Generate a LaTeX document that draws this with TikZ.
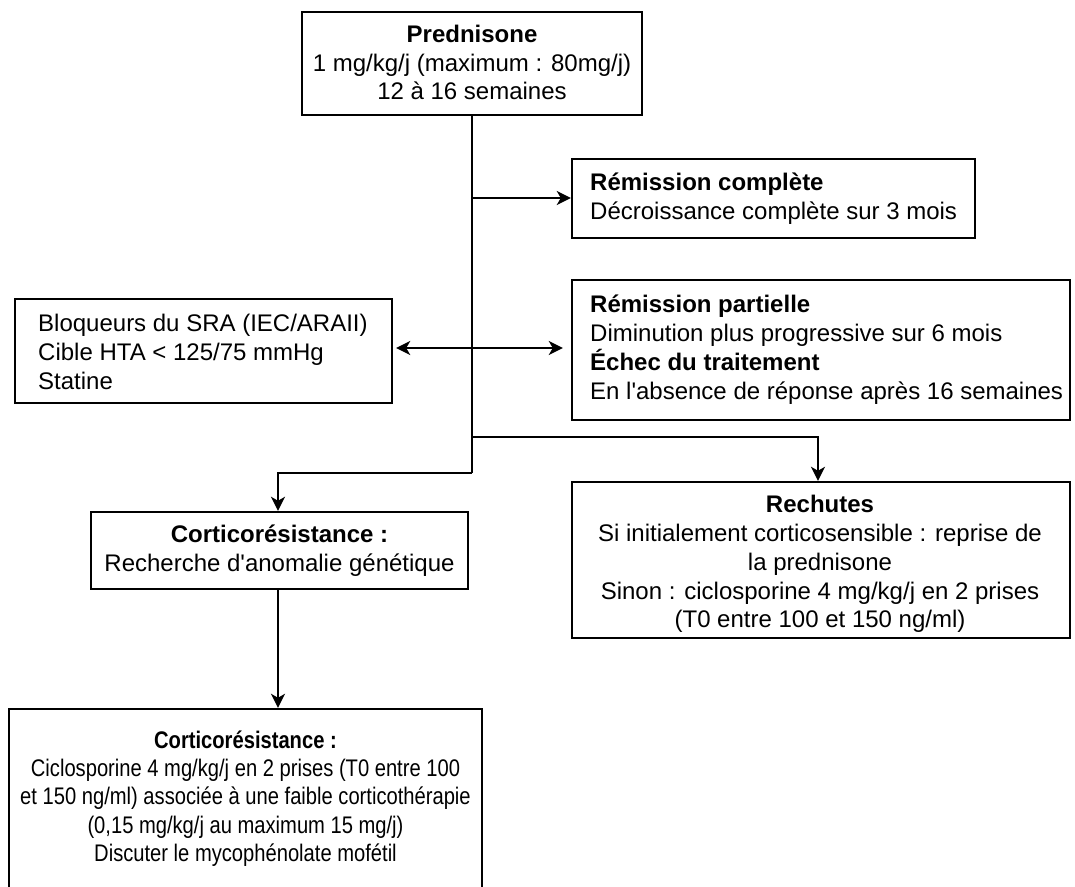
\documentclass[tikz,border=0pt]{standalone}
\usepackage{fontspec}
\setmainfont{Liberation Sans}
\newfontfamily\narrowfont{Liberation Sans}[FakeStretch=0.84]
\usetikzlibrary{arrows.meta}
\begin{document}
\begin{tikzpicture}[x=1pt,y=-1pt,
  box/.style={draw, line width=2.4pt, inner sep=0pt},
  txt/.style={font=\fontsize{24}{28.8}\selectfont, inner sep=0pt},
  ntxt/.style={font=\narrowfont\fontsize{24}{28.3}\selectfont, inner sep=0pt},
  conn/.style={line width=2.4pt},
  arr/.style={conn, -{Stealth[length=14pt,width=14pt,inset=4pt]}},
  darr/.style={conn, {Stealth[length=14pt,width=14pt,inset=4pt]}-{Stealth[length=14pt,width=14pt,inset=4pt]}},
]
\useasboundingbox (0,0) rectangle (1075,886);
\clip (0,0) rectangle (1075,886);
\fill[white] (0,0) rectangle (1075,886);

% boxes
\node[box, minimum width=340pt, minimum height=103pt] (pred) at (472,63.5) {};
\node[box, minimum width=403pt, minimum height=79pt] (remc) at (773.5,198.5) {};
\node[box, minimum width=498pt, minimum height=140pt] (remp) at (821,350) {};
\node[box, minimum width=377pt, minimum height=104pt] (sra) at (203.5,351) {};
\node[box, minimum width=498pt, minimum height=156pt] (rech) at (821,560) {};
\node[box, minimum width=377pt, minimum height=77pt] (cra) at (279.5,550.5) {};
\node[box, minimum width=473pt, minimum height=220pt] (crb) at (245.5,819) {};

% texts
\node[txt, align=center] (tpred) at (472,62.5) {\textbf{Prednisone}\\1 mg/kg/j (maximum : 80mg/j)\\12 à 16 semaines};
\node[txt, align=left, anchor=west] (tremc) at (590,198.5) {\textbf{Rémission complète}\\Décroissance complète sur 3 mois};
\node[txt, align=left, anchor=west] (tremp) at (590,349.5) {\textbf{Rémission partielle}\\Diminution plus progressive sur 6 mois\\\textbf{Échec du traitement}\\En l\textquotesingle absence de réponse après 16 semaines};
\node[txt, align=left, anchor=west] (tsra) at (38,352) {Bloqueurs du SRA (IEC/ARAII)\\Cible HTA < 125/75 mmHg\\Statine};
\node[txt, align=center] (trech) at (820,564) {\textbf{Rechutes}\\Si initialement corticosensible : reprise de\\la prednisone\\Sinon : ciclosporine 4 mg/kg/j en 2 prises\\(T0 entre 100 et 150 ng/ml)};
\node[txt, align=center] (tcra) at (279.5,551) {\textbf{Corticorésistance :}\\Recherche d\textquotesingle anomalie génétique};
\node[ntxt, align=center] (tcrb) at (245.5,798.5) {\textbf{Corticorésistance :}\\Ciclosporine 4 mg/kg/j en 2 prises (T0 entre 100\\et 150 ng/ml) associée à une faible corticothérapie\\(0,15 mg/kg/j au maximum 15 mg/j)\\Discuter le mycophénolate mofétil};

% junctions
\coordinate (j1) at (472,198);
\coordinate (j2) at (472,348);
\coordinate (j3) at (472,437);
\coordinate (j4) at (472,473);

% connectors
\draw[conn] (pred.south) -- (j4);
\draw[arr] (j1) -- (remc.west |- j1);
\draw[darr, shorten <=3pt, shorten >=8pt] (sra.east |- j2) -- (remp.west |- j2);
\draw[arr] (j3) -| ([xshift=-3pt]rech.north);
\draw[arr] (j4) -| ([xshift=-1.5pt]cra.north);
\draw[arr] ([xshift=-1.5pt]cra.south) -- ([xshift=-1.5pt]cra.south |- crb.north);
\end{tikzpicture}
\end{document}
